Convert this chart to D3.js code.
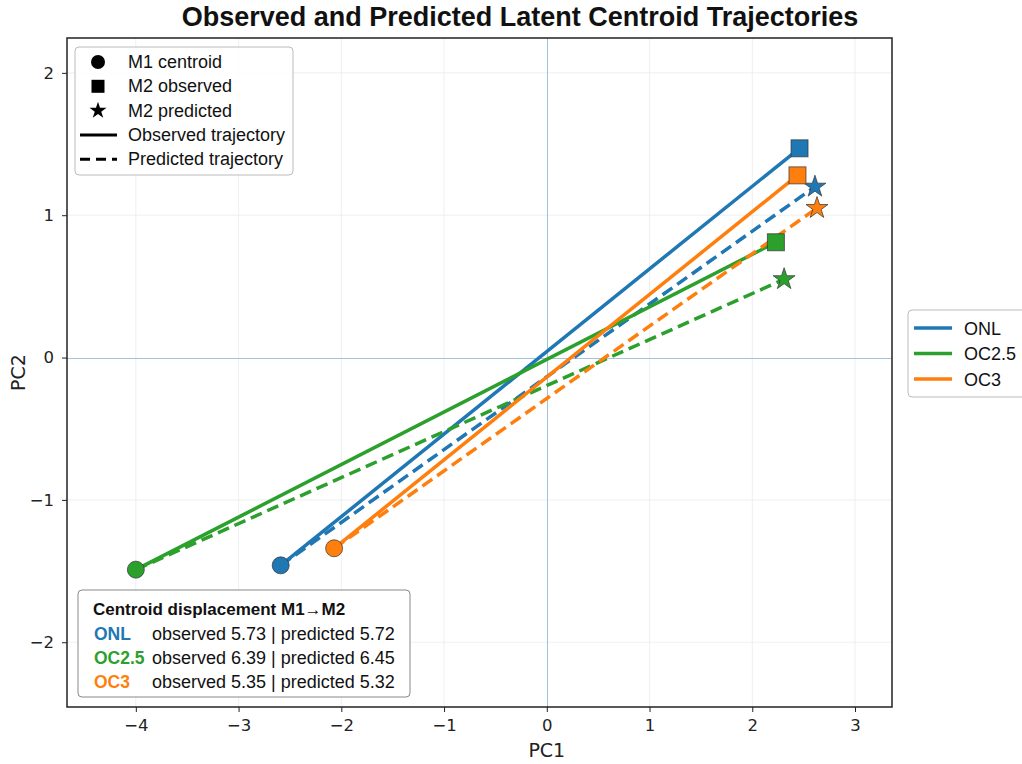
<!DOCTYPE html>
<html><head><meta charset="utf-8">
<script src="https://cdn.jsdelivr.net/npm/d3@7"></script>
<style>body{margin:0;background:#fff;} svg{display:block;}</style>
</head><body>
<svg id="c" width="1022" height="764"></svg>
<script>
const groups = ["ONL", "OC2.5", "OC3"];
const colors = ["#1f77b4", "#2ca02c", "#ff7f0e"];
const m1X = [-2.59, -4.00, -2.07];
const m1Y = [-1.46, -1.49, -1.34];
const obsX = [2.46, 2.23, 2.44];
const obsY = [1.47, 0.81, 1.28];
const predX = [2.61, 2.31, 2.63];
const predY = [1.20, 0.55, 1.05];
const dispObs = ["5.73", "6.39", "5.35"];
const dispPred = ["5.72", "6.45", "5.32"];
const xTicks = [-4, -3, -2, -1, 0, 1, 2, 3];
const yTicks = [-2, -1, 0, 1, 2];

const svg = d3.select("#c");
const L = 67, R = 892, T = 38, B = 707;
const x = d3.scaleLinear().domain([-4.67, 3.36]).range([L, R]);
const y = d3.scaleLinear().domain([-2.455, 2.245]).range([B, T]);
const FONT = "'DejaVu Sans', sans-serif";
const SANS = "'Liberation Sans', Arial, sans-serif";

// grid
const g = svg.append("g");
g.selectAll(".gx").data(xTicks.filter(d => d !== 0)).join("line")
  .attr("x1", d => x(d)).attr("x2", d => x(d)).attr("y1", T).attr("y2", B)
  .attr("stroke", "#ebebeb").attr("stroke-width", 0.8);
g.selectAll(".gy").data(yTicks.filter(d => d !== 0)).join("line")
  .attr("y1", d => y(d)).attr("y2", d => y(d)).attr("x1", L).attr("x2", R)
  .attr("stroke", "#ebebeb").attr("stroke-width", 0.8);
// zero lines
g.append("line").attr("x1", Math.round(x(0)) + 0.5).attr("x2", Math.round(x(0)) + 0.5).attr("y1", T).attr("y2", B)
  .attr("stroke", "#9fc2de").attr("stroke-width", 1);
g.append("line").attr("y1", Math.round(y(0)) + 0.5).attr("y2", Math.round(y(0)) + 0.5).attr("x1", L).attr("x2", R)
  .attr("stroke", "#9fc2de").attr("stroke-width", 1);

// axes
const fmt = d => String(d).replace("-", "\u2212");
const xa = svg.append("g").attr("transform", `translate(0,${B})`)
  .call(d3.axisBottom(x).tickValues(xTicks).tickSize(5).tickPadding(7).tickFormat(fmt));
const ya = svg.append("g").attr("transform", `translate(${L},0)`)
  .call(d3.axisLeft(y).tickValues(yTicks).tickSize(5).tickPadding(8).tickFormat(fmt));
[xa, ya].forEach(a => {
  a.select(".domain").remove();
  a.selectAll("text").attr("font-family", FONT).attr("font-size", 16.5).attr("fill", "#222");
  a.selectAll("line").attr("stroke", "#222");
});

// trajectories
const lines = svg.append("g");
groups.forEach((name, i) => {
  lines.append("line").attr("x1", x(m1X[i])).attr("y1", y(m1Y[i]))
    .attr("x2", x(obsX[i])).attr("y2", y(obsY[i]))
    .attr("stroke", colors[i]).attr("stroke-width", 3.5);
  lines.append("line").attr("x1", x(m1X[i])).attr("y1", y(m1Y[i]))
    .attr("x2", x(predX[i])).attr("y2", y(predY[i]))
    .attr("stroke", colors[i]).attr("stroke-width", 3.5).attr("stroke-dasharray", "12,6");
});
const star = d3.symbol().type(d3.symbolStar).size(150);
const mk = svg.append("g");
groups.forEach((name, i) => {
  mk.append("circle").attr("cx", x(m1X[i])).attr("cy", y(m1Y[i])).attr("r", 8.5)
    .attr("fill", colors[i]).attr("stroke", "#333").attr("stroke-opacity", 0.7).attr("stroke-width", 1);
  mk.append("rect").attr("x", x(obsX[i]) - 8.5).attr("y", y(obsY[i]) - 8.5).attr("width", 17).attr("height", 17)
    .attr("fill", colors[i]).attr("stroke", "#333").attr("stroke-opacity", 0.7).attr("stroke-width", 1);
  mk.append("path").attr("d", star).attr("transform", `translate(${x(predX[i])},${y(predY[i])})`)
    .attr("fill", colors[i]).attr("stroke", "#333").attr("stroke-opacity", 0.7).attr("stroke-width", 1);
});

// frame
svg.append("rect").attr("x", L).attr("y", T).attr("width", R - L).attr("height", B - T)
  .attr("fill", "none").attr("stroke", "#222").attr("stroke-width", 1.5);

// title & labels
svg.append("text").attr("x", 520).attr("y", 26).attr("text-anchor", "middle")
  .attr("font-family", SANS).attr("font-weight", "bold").attr("font-size", 27).attr("fill", "#111")
  .text("Observed and Predicted Latent Centroid Trajectories");
svg.append("text").attr("x", x(0)).attr("y", 757).attr("text-anchor", "middle")
  .attr("font-family", FONT).attr("font-size", 19).attr("fill", "#222").text("PC1");
svg.append("text").attr("transform", `translate(25,${(T + B) / 2}) rotate(-90)`).attr("text-anchor", "middle")
  .attr("font-family", FONT).attr("font-size", 19).attr("fill", "#222").text("PC2");

// marker/style legend
const lg = svg.append("g");
lg.append("rect").attr("x", 75).attr("y", 47).attr("width", 218).attr("height", 128).attr("rx", 4)
  .attr("fill", "#fff").attr("fill-opacity", 0.85).attr("stroke", "#bbb");
const lgItems = ["M1 centroid", "M2 observed", "M2 predicted", "Observed trajectory", "Predicted trajectory"];
lgItems.forEach((t, k) => {
  const cy = 62 + k * 24.3;
  if (k === 0) lg.append("circle").attr("cx", 98).attr("cy", cy).attr("r", 7).attr("fill", "#000");
  if (k === 1) lg.append("rect").attr("x", 91.5).attr("y", cy - 6.5).attr("width", 13).attr("height", 13).attr("fill", "#000");
  if (k === 2) lg.append("path").attr("d", d3.symbol().type(d3.symbolStar).size(90)).attr("transform", `translate(98,${cy})`).attr("fill", "#000");
  if (k === 3) lg.append("line").attr("x1", 80).attr("x2", 117).attr("y1", cy).attr("y2", cy).attr("stroke", "#000").attr("stroke-width", 3);
  if (k === 4) lg.append("line").attr("x1", 80).attr("x2", 117).attr("y1", cy).attr("y2", cy).attr("stroke", "#000").attr("stroke-width", 3).attr("stroke-dasharray", "10,6");
  lg.append("text").attr("x", 128).attr("y", cy + 6).attr("font-family", SANS).attr("font-size", 18).attr("fill", "#111").text(t);
});

// group legend
const rg = svg.append("g");
rg.append("rect").attr("x", 908).attr("y", 310).attr("width", 120).attr("height", 87).attr("rx", 4)
  .attr("fill", "#fff").attr("stroke", "#bbb");
groups.forEach((name, i) => {
  const cy = 328 + i * 25.5;
  rg.append("line").attr("x1", 914).attr("x2", 952).attr("y1", cy).attr("y2", cy).attr("stroke", colors[i]).attr("stroke-width", 3.5);
  rg.append("text").attr("x", 964).attr("y", cy + 6.5).attr("font-family", SANS).attr("font-size", 18).attr("fill", "#111").text(name);
});

// displacement box
const db = svg.append("g");
db.append("rect").attr("x", 78).attr("y", 590).attr("width", 332).attr("height", 107).attr("rx", 4)
  .attr("fill", "#fff").attr("fill-opacity", 0.9).attr("stroke", "#888");
db.append("text").attr("x", 93).attr("y", 615).attr("font-family", SANS).attr("font-weight", "bold").attr("font-size", 17).attr("fill", "#111")
  .text("Centroid displacement M1\u2192M2");
groups.forEach((name, i) => {
  const yy = 640 + i * 24;
  db.append("text").attr("x", 94).attr("y", yy).attr("font-family", SANS).attr("font-weight", "bold").attr("font-size", 17.5).attr("fill", colors[i]).text(name);
  db.append("text").attr("x", 152).attr("y", yy).attr("font-family", SANS).attr("font-size", 18).attr("fill", "#111")
    .text(`observed ${dispObs[i]} | predicted ${dispPred[i]}`);
});
</script>
</body></html>
